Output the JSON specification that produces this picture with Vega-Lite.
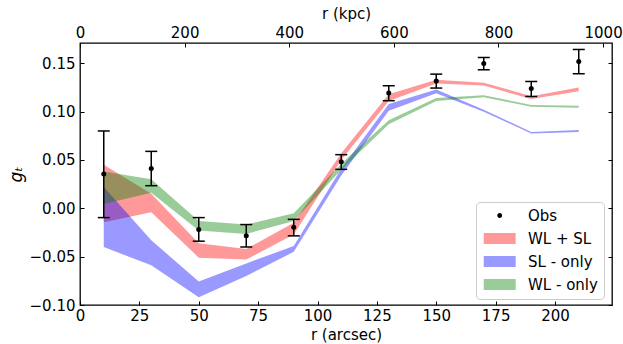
{
  "$schema": "https://vega.github.io/schema/vega-lite/v6.json",
  "width": 532,
  "height": 262,
  "autosize": {"type": "none"},
  "padding": {"left": 80, "top": 43, "right": 11, "bottom": 39},
  "background": "white",
  "datasets": {
    "bands": [
      {"model": "WL + SL", "r": 10, "lo": -0.0145, "hi": 0.045},
      {"model": "WL + SL", "r": 30, "lo": -0.004, "hi": 0.015},
      {"model": "WL + SL", "r": 50, "lo": -0.051, "hi": -0.036},
      {"model": "WL + SL", "r": 70, "lo": -0.053, "hi": -0.042},
      {"model": "WL + SL", "r": 90, "lo": -0.027, "hi": -0.015},
      {"model": "WL + SL", "r": 110, "lo": 0.050, "hi": 0.057},
      {"model": "WL + SL", "r": 130, "lo": 0.111, "hi": 0.118},
      {"model": "WL + SL", "r": 150, "lo": 0.129, "hi": 0.133},
      {"model": "WL + SL", "r": 170, "lo": 0.127, "hi": 0.130},
      {"model": "WL + SL", "r": 190, "lo": 0.113, "hi": 0.116},
      {"model": "WL + SL", "r": 210, "lo": 0.121, "hi": 0.125},
      {"model": "SL - only", "r": 10, "lo": -0.040, "hi": 0.022},
      {"model": "SL - only", "r": 30, "lo": -0.059, "hi": -0.033},
      {"model": "SL - only", "r": 50, "lo": -0.092, "hi": -0.0757},
      {"model": "SL - only", "r": 70, "lo": -0.070, "hi": -0.057},
      {"model": "SL - only", "r": 90, "lo": -0.045, "hi": -0.039},
      {"model": "SL - only", "r": 110, "lo": 0.034, "hi": 0.041},
      {"model": "SL - only", "r": 130, "lo": 0.101, "hi": 0.108},
      {"model": "SL - only", "r": 150, "lo": 0.119, "hi": 0.123},
      {"model": "SL - only", "r": 170, "lo": 0.100, "hi": 0.102},
      {"model": "SL - only", "r": 190, "lo": 0.0775, "hi": 0.079},
      {"model": "SL - only", "r": 210, "lo": 0.079, "hi": 0.081},
      {"model": "WL - only", "r": 10, "lo": 0.0045, "hi": 0.038},
      {"model": "WL - only", "r": 30, "lo": 0.016, "hi": 0.030},
      {"model": "WL - only", "r": 50, "lo": -0.023, "hi": -0.013},
      {"model": "WL - only", "r": 70, "lo": -0.0265, "hi": -0.0168},
      {"model": "WL - only", "r": 90, "lo": -0.013, "hi": -0.005},
      {"model": "WL - only", "r": 110, "lo": 0.040, "hi": 0.046},
      {"model": "WL - only", "r": 130, "lo": 0.087, "hi": 0.091},
      {"model": "WL - only", "r": 150, "lo": 0.111, "hi": 0.114},
      {"model": "WL - only", "r": 170, "lo": 0.115, "hi": 0.117},
      {"model": "WL - only", "r": 190, "lo": 0.105, "hi": 0.107},
      {"model": "WL - only", "r": 210, "lo": 0.104, "hi": 0.106}
    ],
    "obs": [
      {"model": "Obs", "r": 10, "g": 0.0355, "lo": -0.0096, "hi": 0.080},
      {"model": "Obs", "r": 30, "g": 0.0413, "lo": 0.0234, "hi": 0.0589},
      {"model": "Obs", "r": 50, "g": -0.022, "lo": -0.034, "hi": -0.0096},
      {"model": "Obs", "r": 70, "g": -0.0285, "lo": -0.040, "hi": -0.0168},
      {"model": "Obs", "r": 90, "g": -0.0196, "lo": -0.0285, "hi": -0.0114},
      {"model": "Obs", "r": 110, "g": 0.0482, "lo": 0.0403, "hi": 0.0555},
      {"model": "Obs", "r": 130, "g": 0.1192, "lo": 0.1113, "hi": 0.1268},
      {"model": "Obs", "r": 150, "g": 0.1316, "lo": 0.1244, "hi": 0.1388},
      {"model": "Obs", "r": 170, "g": 0.1498, "lo": 0.1433, "hi": 0.156},
      {"model": "Obs", "r": 190, "g": 0.124, "lo": 0.1157, "hi": 0.1312},
      {"model": "Obs", "r": 210, "g": 0.1519, "lo": 0.1392, "hi": 0.1643}
    ],
    "kpc": [
      {"kpc": 0, "g": 0},
      {"kpc": 1017, "g": 0}
    ]
  },
  "config": {
    "view": {"stroke": "black", "strokeWidth": 1.3},
    "font": "DejaVu Sans",
    "axis": {
      "labelFont": "DejaVu Sans",
      "labelFontSize": 15,
      "labelColor": "black",
      "titleFont": "DejaVu Sans",
      "titleFontSize": 15,
      "titleFontWeight": "normal",
      "titleColor": "black",
      "tickColor": "black",
      "tickSize": -4,
      "tickWidth": 1,
      "domain": false,
      "grid": false,
      "labelFlush": false,
      "labelOverlap": false
    }
  },
  "resolve": {"scale": {"x": "independent"}, "axis": {"x": "independent", "y": "independent"}},
  "layer": [
    {
      "layer": [
        {
          "data": {"name": "bands"},
          "mark": {"type": "area", "fillOpacity": 0.4, "strokeWidth": 0},
          "encoding": {
            "x": {
              "field": "r", "type": "quantitative",
              "scale": {"domain": [0, 224], "nice": false, "zero": false},
              "axis": {"orient": "bottom", "values": [0, 25, 50, 75, 100, 125, 150, 175, 200], "format": "d", "labelPadding": 7, "title": "r (arcsec)", "titlePadding": 4}
            },
            "y": {
              "field": "lo", "type": "quantitative",
              "scale": {"domain": [-0.1, 0.171], "nice": false, "zero": false},
              "axis": {"orient": "left", "values": [-0.1, -0.05, 0, 0.05, 0.1, 0.15], "format": ".2f", "labelPadding": 9, "title": "gₜ", "titleFontStyle": "italic", "titleFontSize": 17, "titlePadding": 4}
            },
            "y2": {"field": "hi"},
            "color": {
              "field": "model", "type": "nominal",
              "scale": {"domain": ["Obs", "WL + SL", "SL - only", "WL - only"], "range": ["black", "red", "blue", "green"]},
              "legend": {
                "orient": "none",
                "legendX": 396,
                "legendY": 159,
                "title": null,
                "padding": 6,
                "rowPadding": 7,
                "strokeColor": "#cccccc",
                "fillColor": "rgba(255,255,255,0.8)",
                "cornerRadius": 4,
                "labelFont": "DejaVu Sans",
                "labelFontSize": 15,
                "labelColor": "black",
                "symbolSize": 121,
                "symbolOffset": 0,
                "labelOffset": 31,
                "encode": {
                  "symbols": {
                    "update": {
                      "shape": {"signal": "datum.value === 'Obs' ? 'M1.415,0A0.44,0.44,0,1,0,2.295,0A0.44,0.44,0,1,0,1.415,0Z' : 'M-1.05,-1H4.76V1H-1.05Z'"},
                      "size": {"value": 121},
                      "fillOpacity": {"signal": "datum.value === 'Obs' ? 1 : 0.4"},
                      "opacity": {"value": 1},
                      "strokeWidth": {"value": 0}
                    }
                  }
                }
              }
            }
          }
        },
        {
          "data": {"name": "obs"},
          "mark": {"type": "rule", "strokeWidth": 1.5, "color": "black"},
          "encoding": {
            "x": {"field": "r", "type": "quantitative"},
            "y": {"field": "lo", "type": "quantitative"},
            "y2": {"field": "hi"}
          }
        },
        {
          "data": {"name": "obs"},
          "mark": {"type": "tick", "orient": "horizontal", "size": 12, "thickness": 1.5, "color": "black", "opacity": 1},
          "encoding": {
            "x": {"field": "r", "type": "quantitative"},
            "y": {"field": "lo", "type": "quantitative"}
          }
        },
        {
          "data": {"name": "obs"},
          "mark": {"type": "tick", "orient": "horizontal", "size": 12, "thickness": 1.5, "color": "black", "opacity": 1},
          "encoding": {
            "x": {"field": "r", "type": "quantitative"},
            "y": {"field": "hi", "type": "quantitative"}
          }
        },
        {
          "data": {"name": "obs"},
          "mark": {"type": "point", "filled": true, "size": 25, "opacity": 1},
          "encoding": {
            "x": {"field": "r", "type": "quantitative"},
            "y": {"field": "g", "type": "quantitative"},
            "color": {"field": "model", "type": "nominal"}
          }
        }
      ]
    },
    {
      "data": {"name": "kpc"},
      "mark": {"type": "point", "opacity": 0},
      "encoding": {
        "x": {
          "field": "kpc", "type": "quantitative",
          "scale": {"domain": [0, 1017], "nice": false, "zero": false},
          "axis": {"orient": "top", "values": [0, 200, 400, 600, 800, 1000], "format": "d", "labelPadding": 7, "title": "r (kpc)", "titlePadding": 4}
        },
        "y": {
          "field": "g", "type": "quantitative",
          "axis": {"orient": "right", "values": [-0.1, -0.05, 0, 0.05, 0.1, 0.15], "labels": false, "title": null}
        }
      }
    }
  ]
}
